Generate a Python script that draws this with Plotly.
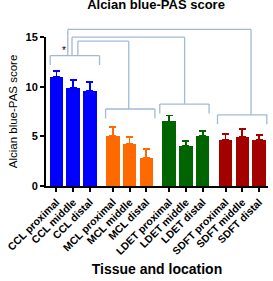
import plotly.graph_objects as go

# ---- data ----
groups = ["CCL", "MCL", "LDET", "SDFT"]
locations = ["proximal", "middle", "distal"]
group_colors = ["#0000ff", "#ff6a00", "#006400", "#a30000"]
values = [11.0, 9.9, 9.6, 5.05, 4.2, 2.85, 6.5, 4.0, 5.08, 4.6, 4.95, 4.6]
errors = [0.55, 0.8, 0.9, 0.9, 0.75, 0.85, 0.6, 0.5, 0.45, 0.6, 0.8, 0.55]
tick_labels = [f"<b>{g} {l}</b>" for g in groups for l in locations]

group_gap = 3.36  # spacing between group starts in bar units
positions = [gi * group_gap + li for gi in range(len(groups)) for li in range(len(locations))]

# bracket annotations (data units)
bracket_centers = [1.1, 4.4, 7.63, 11.07]
bracket_levels = [13.13, 7.75, 8.25, 7.17]
bracket_half = 1.47
bracket_drop = 0.95
conn_from_x = [0.68, 0.93, 1.28]
conn_top = [15.76, 14.98, 14.58]
conn_to_x = [11.6, 7.64, 4.31]
conn_to_group = [3, 2, 1]
star_x, star_y = 0.44, 13.6

YMAX = 15
fig = go.Figure()
for gi, g in enumerate(groups):
    idx = [gi * len(locations) + li for li in range(len(locations))]
    fig.add_trace(go.Bar(
        x=[positions[i] for i in idx], y=[values[i] for i in idx], width=0.8,
        marker=dict(color=group_colors[gi], line=dict(width=0)),
        error_y=dict(type="data", array=[errors[i] for i in idx], arrayminus=[0] * 3,
                     symmetric=False, color=group_colors[gi], thickness=1.8, width=3.5),
        showlegend=False,
    ))

bcol = "#a3b8d6"
lw = 1.3

def seg(x0, y0, x1, y1):
    fig.add_shape(type="line", xref="x", yref="y domain",
                  x0=x0, x1=x1, y0=y0 / YMAX, y1=y1 / YMAX,
                  line=dict(color=bcol, width=lw))

for c, lev in zip(bracket_centers, bracket_levels):
    seg(c - bracket_half, lev, c + bracket_half, lev)
    seg(c - bracket_half, lev, c - bracket_half, lev - bracket_drop)
    seg(c + bracket_half, lev, c + bracket_half, lev - bracket_drop)

for fx, top, tx, tg in zip(conn_from_x, conn_top, conn_to_x, conn_to_group):
    seg(fx, bracket_levels[0], fx, top)
    seg(fx, top, tx, top)
    seg(tx, top, tx, bracket_levels[tg])

fig.add_annotation(x=star_x, y=star_y, text="*", showarrow=False,
                   font=dict(size=10, color="black", family="Liberation Sans"))

fig.update_layout(
    width=273, height=281,
    margin=dict(l=43, r=5, t=37, b=95),
    plot_bgcolor="white", paper_bgcolor="white",
    font=dict(family="Liberation Sans, Arial", color="black"),
    title=dict(text="<b>Alcian blue-PAS score</b>", x=156 / 273, xanchor="center",
               y=1 - 4 / 281, yanchor="middle", font=dict(size=13, color="black")),
    barmode="overlay",
    bargap=0,
)
fig.update_xaxes(
    range=[-0.62, 3 * group_gap + 2 + 0.53],
    tickvals=positions, ticktext=tick_labels, tickangle=-45,
    tickfont=dict(size=10.5, color="black", family="Liberation Sans"),
    showline=True, linecolor="black", linewidth=2,
    ticks="outside", ticklen=4, tickwidth=1.5, tickcolor="black",
    showgrid=False, zeroline=False,
    title=dict(text="<b>Tissue and location</b>", font=dict(size=14), standoff=8),
)
fig.update_yaxes(
    range=[0, YMAX], tickvals=[0, 5, 10, 15], ticktext=["<b>0</b>", "<b>5</b>", "<b>10</b>", "<b>15</b>"],
    tickfont=dict(size=11, color="black"),
    showline=True, linecolor="black", linewidth=2,
    ticks="outside", ticklen=4, tickwidth=1.5, tickcolor="black",
    showgrid=False, zeroline=False,
    title=dict(text="Alcian blue-PAS score", font=dict(size=11.5), standoff=6),
)
fig.write_html("out.html")
